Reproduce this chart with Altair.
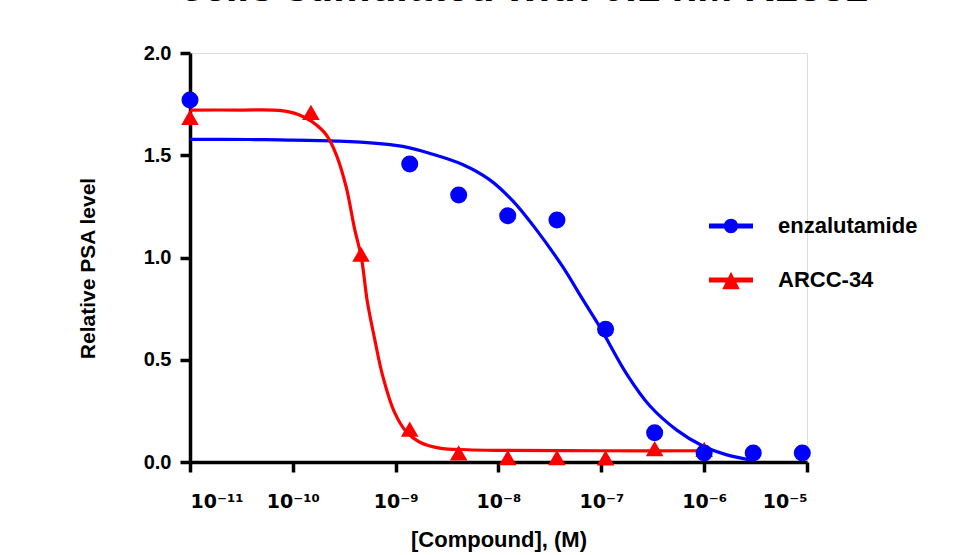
import json
import altair as alt
import pandas as pd

# ---- data ----
series_names = ["enzalutamide", "ARCC-34"]
series_colors = ["#0000FF", "#FF0000"]

blue_x = [1e-11, 1.37e-9, 4.1e-9, 1.23e-8, 3.7e-8, 1.1e-7, 3.3e-7, 1e-6, 3e-6, 9e-6]
blue_y = [1.77, 1.457, 1.306, 1.204, 1.183, 0.649, 0.143, 0.044, 0.044, 0.044]

red_x = [1e-11, 1.5e-10, 4.6e-10, 1.37e-9, 4.1e-9, 1.23e-8, 3.7e-8, 1.1e-7, 3.3e-7, 1e-6]
red_y = [1.685, 1.71, 1.016, 0.161, 0.045, 0.022, 0.022, 0.02, 0.065, 0.062]

# fitted curves (log10 of concentration, value)
blue_curve_logx = [-11.0, -10.42, -10.131, -9.55, -9.157, -9.0, -8.875, -8.672, -8.35, -8.088,
                   -7.863, -7.629, -7.376, -7.181, -7.016, -6.753, -6.529, -6.266,
                   -6.013, -5.779, -5.525]
blue_curve_y = [1.578, 1.577, 1.575, 1.569, 1.557, 1.548, 1.537, 1.510, 1.455, 1.381,
                1.278, 1.134, 0.955, 0.795, 0.662, 0.43, 0.275, 0.156,
                0.078, 0.035, 0.008]

red_curve_logx = [-11.0, -10.5, -10.131, -9.936, -9.81, -9.674, -9.576, -9.479, -9.401,
                  -9.333, -9.275, -9.206, -9.128, -9.012, -8.895, -8.769, -8.574, -8.3,
                  -8.0, -7.0, -6.0]
red_curve_y = [1.721, 1.721, 1.719, 1.697, 1.663, 1.599, 1.501, 1.340, 1.144,
               0.998, 0.782, 0.606, 0.425, 0.244, 0.147, 0.098, 0.068, 0.060,
               0.057, 0.055, 0.055]

x_tick_values = [1e-11, 1e-10, 1e-9, 1e-8, 1e-7, 1e-6, 1e-5]
x_tick_labels = ["10⁻¹¹", "10⁻¹⁰", "10⁻⁹", "10⁻⁸", "10⁻⁷", "10⁻⁶", "10⁻⁵"]
y_tick_values = [0.0, 0.5, 1.0, 1.5, 2.0]

title_text = "cells stimulated with 0.1 nM R1881"
x_title = "[Compound], (M)"
y_title = "Relative PSA level"

# ---- tables ----
blue_pts = pd.DataFrame({"conc": blue_x, "value": blue_y})
red_pts = pd.DataFrame({"conc": red_x, "value": red_y})
blue_curve = pd.DataFrame({"conc": [10 ** v for v in blue_curve_logx], "value": blue_curve_y})
red_curve = pd.DataFrame({"conc": [10 ** v for v in red_curve_logx], "value": red_curve_y})
legend_df = pd.DataFrame({"compound": series_names, "conc": [1e-11, 1e-11], "value": [0.0, 0.0]})

FONT = "Liberation Sans"
label_expr = json.dumps(x_tick_labels, ensure_ascii=False) + "[round(log(datum.value)/LN10)+11]"

x_enc = alt.X(
    "conc:Q",
    scale=alt.Scale(type="log", domain=[1e-11, 1e-5], nice=False),
    axis=alt.Axis(
        title=x_title, values=x_tick_values, labelExpr=label_expr,
        grid=False, tickSize=10, tickWidth=3.5, domainWidth=3.5,
        domainColor="black", tickColor="black",
        labelFontSize=19, labelFontWeight="bold", labelFont="DejaVu Sans", labelColor="black",
        labelPadding=20, titleFontSize=22, titleFontWeight="bold", titleFont=FONT,
        titlePadding=18, titleColor="black",
    ),
)
y_enc = alt.Y(
    "value:Q",
    scale=alt.Scale(domain=[0, 2.0], nice=False),
    axis=alt.Axis(
        title=y_title, values=y_tick_values, format=".1f",
        grid=False, tickSize=10, tickWidth=3.5, domainWidth=3.5,
        domainColor="black", tickColor="black",
        labelFontSize=20, labelFontWeight="bold", labelFont=FONT, labelColor="black",
        labelPadding=9, titleFontSize=21, titleFontWeight="bold", titleFont=FONT,
        titlePadding=45, titleColor="black", titleY=215,
    ),
)

blue_line = alt.Chart(blue_curve).mark_line(
    color=series_colors[0], strokeWidth=3.2, interpolate="catmull-rom", clip=True
).encode(x=x_enc, y=y_enc)

red_line = alt.Chart(red_curve).mark_line(
    color=series_colors[1], strokeWidth=3.2, interpolate="catmull-rom", clip=True
).encode(x=x_enc, y=y_enc)

red_points = alt.Chart(red_pts).mark_point(
    shape="triangle-up", filled=True, color=series_colors[1], size=310, opacity=1
).encode(x=x_enc, y=y_enc)

blue_points = alt.Chart(blue_pts).mark_point(
    shape="circle", filled=True, color=series_colors[0], size=290, opacity=1
).encode(x=x_enc, y=y_enc)

circle_path = ("M -2.75 -0.32 L 2.75 -0.32 L 2.75 0.32 L -2.75 0.32 Z "
               "M 0.9 0 A 0.9 0.9 0 1 1 -0.9 0 A 0.9 0.9 0 1 1 0.9 0 Z")
triangle_path = ("M -2.75 -0.32 L 2.75 -0.32 L 2.75 0.32 L -2.75 0.32 Z "
                 "M 0 -1.04 L 1.1 1.16 L -1.1 1.16 Z")

legend = alt.Legend(
    title=None, orient="none", legendX=530, legendY=162, padding=0,
    symbolSize=256, symbolStrokeWidth=0, symbolOpacity=1,
    labelFontSize=22, labelFontWeight="bold", labelFont=FONT, labelColor="black",
    labelOffset=36, rowPadding=32, labelLimit=400,
)

legend_layer = alt.Chart(legend_df).mark_point(filled=True, opacity=0, size=10).encode(
    x=x_enc, y=y_enc,
    color=alt.Color("compound:N", scale=alt.Scale(domain=series_names, range=series_colors), legend=legend),
    shape=alt.Shape("compound:N", scale=alt.Scale(domain=series_names, range=[circle_path, triangle_path]), legend=legend),
)

chart = alt.layer(blue_line, red_line, red_points, blue_points, legend_layer).properties(
    width=617, height=409,
    autosize=alt.AutoSizeParams(type="none"),
    padding={"left": 190, "top": 53, "right": 150, "bottom": 93},
    title=alt.TitleParams(
        text=title_text, fontSize=42, fontWeight="bold", fontStyle="italic", font=FONT,
        anchor="middle", frame="group", offset=0, baseline="alphabetic", color="black", dx=27,
    ),
).configure_view(stroke=None).configure(background="white")

chart.save("out.html", embed_options={"renderer": "svg", "actions": False})
